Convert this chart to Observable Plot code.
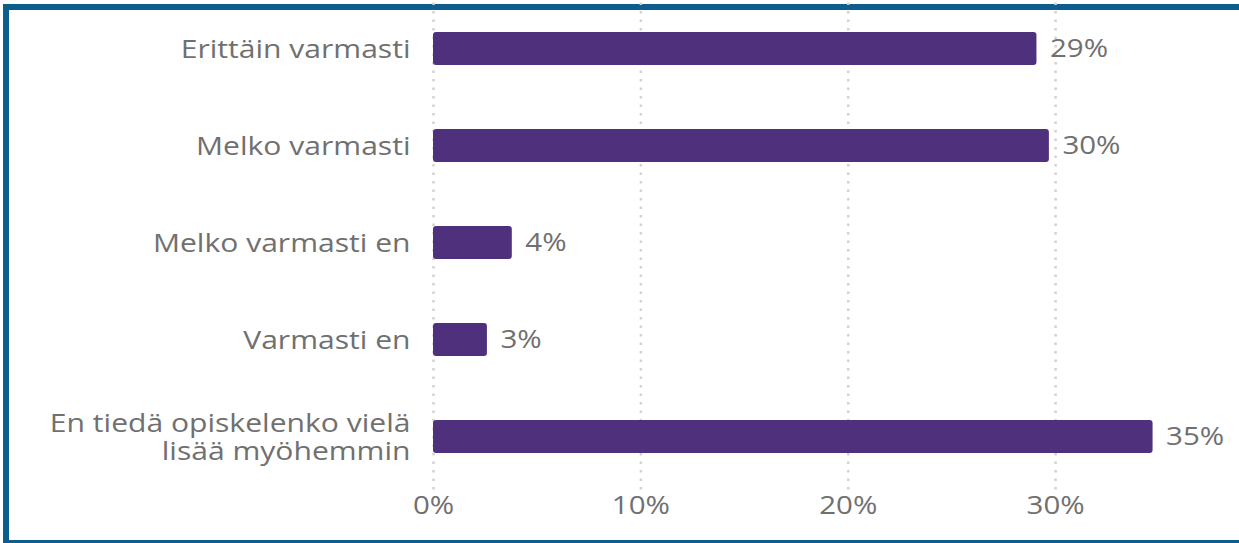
<!DOCTYPE html>
<html>
<head>
<meta charset="utf-8">
<script src="https://cdn.jsdelivr.net/npm/d3@7"></script>
<script src="https://cdn.jsdelivr.net/npm/@observablehq/plot@0.6"></script>
<style>
  html, body { margin: 0; padding: 0; background: #fff; width: 1239px; height: 543px; overflow: hidden; }
  #frame { position: absolute; left: 3px; top: 4px; width: 1300px; height: 530px;
           border-top: 6px solid #0e5d8f; border-left: 6px solid #0e5d8f; border-bottom: 3px solid #0e5d8f; }
  #chart { position: absolute; left: 0; top: 0; }
</style>
</head>
<body>
<div id="frame"></div>
<div id="chart"></div>
<script>
const categories = [
  "Erittäin varmasti",
  "Melko varmasti",
  "Melko varmasti en",
  "Varmasti en",
  "En tiedä opiskelenko vielä\nlisää myöhemmin"
];
const values = [29.1, 29.7, 3.8, 2.6, 34.7];
const valueLabels = ["29%", "30%", "4%", "3%", "35%"];
const xTicks = [0, 10, 20, 30];

const data = categories.map((c, i) => ({category: c, value: values[i], label: valueLabels[i]}));

const textColor = "#707070";
const font = "'Open Sans', sans-serif";

const chart = Plot.plot({
  width: 1239,
  height: 543,
  marginLeft: 433,
  marginRight: 18,
  marginTop: 0,
  marginBottom: 59,
  style: {fontFamily: font, background: "transparent", color: textColor},
  x: {domain: [0, 38], ticks: xTicks, tickFormat: d => d + "%"},
  y: {domain: categories, paddingInner: 0.66, paddingOuter: 0.3},
  marks: [
    Plot.ruleX(xTicks, {stroke: "#d2d2d2", strokeWidth: 2.5, strokeDasharray: "2.5,6", insetTop: -6, insetBottom: -8}),
    Plot.barX(data, {x: "value", y: "category", fill: "#4e307c", rx: 3}),
    Plot.text(data, {x: "value", y: "category", text: "label", dx: 13, textAnchor: "start", fill: textColor, fontSize: 25}),
    Plot.axisX({ticks: xTicks, tickFormat: d => d + "%", tickSize: 0, tickPadding: 12, fontSize: 25, fill: textColor, label: null}),
    Plot.axisY({tickSize: 0, tickPadding: 23, fontSize: 25.5, lineHeight: 1.12, fill: textColor, label: null})
  ]
});
// the reference text is rendered horizontally wider than the font's natural width
chart.querySelectorAll("text").forEach(t => {
  const tr = t.getAttribute("transform");
  if (tr) t.setAttribute("transform", tr + " scale(1.18,1)");
});
document.getElementById("chart").appendChild(chart);
</script>
</body>
</html>
